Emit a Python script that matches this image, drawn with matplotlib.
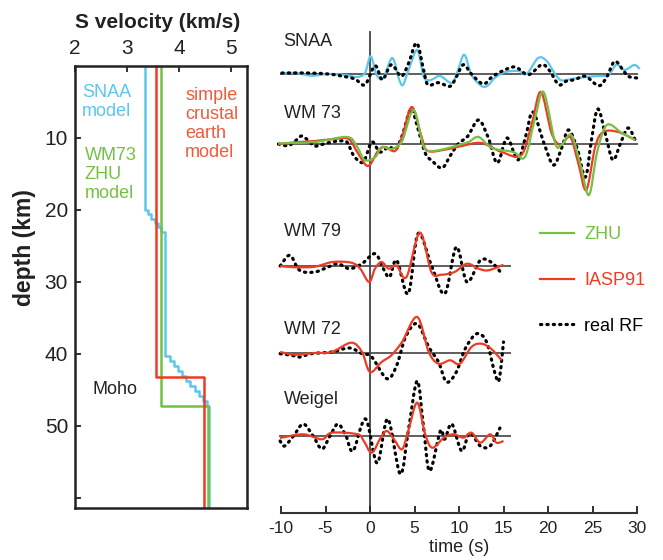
import numpy as np
import matplotlib
matplotlib.use("Agg")
import matplotlib.pyplot as plt
from matplotlib.path import Path
from matplotlib.patches import PathPatch
from matplotlib.lines import Line2D

plt.rcParams['font.family'] = ['Liberation Sans', 'DejaVu Sans']
plt.rcParams['axes.unicode_minus'] = False

BLUE = '#5cc6ee'
RED = '#ee3b24'
GREEN = '#74c045'
DARK = '#333333'

# ---- velocity models: layer top depth (km) and S velocity (km/s) ----
snaa_top = [0, 20.0, 20.6, 21.2, 21.8, 22.4, 23.0, 40.3, 41.0, 41.7, 42.4,
            43.1, 43.8, 44.5, 45.2, 45.9, 46.6, 47.3]
snaa_vs = [3.35, 3.41, 3.47, 3.53, 3.59, 3.65, 3.74, 3.82, 3.90, 3.98, 4.06,
           4.14, 4.22, 4.30, 4.38, 4.46, 4.54, 4.58]
simple_top = [0, 43.2]
simple_vs = [3.56, 4.49]
zhu_top = [0, 47.2]
zhu_vs = [3.65, 4.55]
max_depth = 61.4

# ---- receiver functions: time (s), amplitude ----
snaa_rf_t = [-9.9, -6.9, -4.7, -3.2, -1.7, -0.56, 0.56, 1.4, 2.4, 3.5, 4.3, 5.24,
             6.0, 6.5, 7.7, 9.0, 9.7, 10.5, 11.4, 12.7, 13.7, 14.8, 16.3, 17.8,
             19.3, 20.2, 21.2, 22.1, 23.0, 24.2, 25.7, 26.6, 27.5, 28.5, 29.0, 30.0]
snaa_rf_a = [1, 1, 0, -2, -5, -10.7, 8.3, -5.7, 9.3, -2.3, 10, 31,
             5, -10.7, -8.7, -12.3, -3, 9.3, 0, -10, -3, 2.7, 7, -0.7,
             9.3, 3, -10.7, -7, -5.7, -2.3, -11.7, -3, 12.7, 3, -2.3, -4]
snaa_syn_t = [-9.9, -8.4, -6.55, -4.7, -2.8, -1.5, -0.56, 0.07, 0.75, 1.5, 2.5, 3.25,
              3.7, 4.3, 5.3, 6.0, 6.55, 7.1, 7.9, 9.2, 9.85, 10.6, 11.4, 12.6,
              13.3, 14.0, 15.2, 16.7, 17.6, 18.9, 19.85, 20.8, 21.5, 22.65, 24.2,
              25.7, 26.8, 27.7, 28.6, 29.7, 30.3]
snaa_syn_a = [0.5, 1, -1.7, 0, -1, -3, 1, 17.7, -1, -4, 16, -5,
              -11, 3, 24, -2, -6.3, -5, -2, -9, 3, 19.3, -1, -12.3,
              -11, -4, 2, 3, 0, 16, 13, 0, -6.3, -5, -3,
              -2, -1, 9.3, 4, 9, 5]

wm73_rf_t = [-10.3, -9.2, -8.4, -7.7, -7.0, -6.2, -5.2, -4.3, -3.4, -2.6, -1.8, -0.75,
             0.2, 1.1, 2.1, 2.9, 3.6, 4.6, 5.3, 6.2, 7.0, 8.1, 9.0, 9.9, 11.0, 12.2,
             13.3, 14.3, 15.4, 16.6, 17.5, 18.3, 19.5, 20.6, 21.5, 22.3, 23.3, 24.2,
             24.9, 25.6, 26.5, 27.3, 28.2, 29.0, 29.8]
wm73_rf_a = [0, -1.7, 3, 8, 4, -2, 0, 2, 3, 2, -12, -18,
             2, -8, -3, -5, 8, 35, 18, -9, -17, -24, -12, 0, 8, 24,
             6, -19, 6, -16, 8, 32, 2, -21, -5, 14, -5, -33,
             5, 35, 8, -16, 2, 16, 4]
wm73_iasp_t = [-10.3, -8.4, -6.2, -4.0, -2.4, -1.3, -0.2, 0.9, 1.7, 2.8, 3.6, 4.7,
               5.8, 6.5, 8.8, 10.3, 12.5, 14.8, 17.0, 18.2, 19.2, 20.4, 21.4, 22.5,
               23.4, 24.3, 25.3, 26.2, 27.9, 29.8]
wm73_iasp_a = [0, 1.7, 3, 5, 5, -10, -22, -7, -3, -7, 7, 37,
               7, -7, -5, -2, 1, -8, -11, 21, 52, 11, -1, 7,
               -19, -46, -3, 12, 12, 4]
wm73_zhu_t = [-10.3, -6.2, -2.6, -1.5, -0.6, 0.6, 1.3, 2.4, 3.6, 4.9, 6.0, 6.9,
              8.8, 10.3, 11.1, 12.2, 13.7, 16.1, 17.4, 18.5, 19.5, 20.8, 21.5, 22.6,
              23.6, 24.6, 25.5, 26.6, 28.3, 29.8]
wm73_zhu_a = [0.5, 2, 7, -2, -16, -13, -3, -5, 3, 34, -2, -7,
              -4, 0, 2, 7, -4, -8, -13, 24, 52, 1, -1, 9,
              -19, -51, -9, 19, 11, 4]

wm79_rf_t = [-10.1, -9.0, -7.9, -6.2, -4.7, -3.6, -2.3, -0.9, 0.56, 1.5, 2.2, 3.0,
             4.3, 5.4, 6.9, 8.4, 9.7, 10.9, 12.4, 13.7, 14.8]
wm79_rf_a = [0, 10.7, -4.3, -6, -1, 2.3, -2.7, 2.3, 12.3, -2.7, -11, 5.7,
             -27.7, 32.3, 0.7, -27.7, 19, -16, 5.7, 3.3, -7.7]
wm79_iasp_t = [-10.1, -8.4, -6.2, -4.2, -2.1, -1.1, -0.1, 0.56, 1.3, 2.1, 3.0, 4.1,
               5.6, 6.9, 8.0, 9.5, 10.9, 12.2, 13.3, 15.0]
wm79_iasp_a = [0, -1.3, -0.7, 4, 3.3, -2.7, -16, -2.7, 4, -2.7, 0.3, -11,
               33.3, -6, -8.7, -6, 2.3, -2.7, -4.3, 1.3]

wm72_rf_t = [-10.1, -8.8, -7.9, -6.6, -4.3, -2.3, -0.9, 0.2, 1.9, 3.0, 4.0, 5.3,
             6.6, 7.7, 8.6, 9.7, 10.7, 12.0, 13.1, 14.0, 14.5, 15.0]
wm72_rf_a = [-0.7, -2.3, -4, -0.7, 1, 5, -0.7, -4, -25.7, -12.3, 16, 29.3,
             6, -9, -29, -19, 4.3, 19.3, 11, -19, -27, 11]
wm72_iasp_t = [-10.1, -8.4, -6.2, -4.3, -2.1, -0.9, 0.0, 1.3, 2.4, 3.6, 5.3, 6.6,
               7.7, 9.0, 10.1, 11.4, 12.5, 13.6, 14.8]
wm72_iasp_a = [1, -1.7, 0, 1, 10.3, 1, -19, -9, -2.3, 11, 36, 1,
               -10.7, -7.3, -10.7, 6, 9.3, 4.3, -7.3]

weigel_rf_t = [-10.1, -9.6, -8.6, -7.5, -6.4, -5.4, -4.5, -3.6, -2.7, -1.9, -0.5, 0.8,
               2.0, 3.4, 4.3, 5.3, 6.0, 6.7, 7.9, 8.4, 9.2, 10.3, 11.2, 12.4, 13.5, 14.6]
weigel_rf_a = [-5, -10, 0, 12, 0, -13, 0, 12, 0, -15, 17, -27,
               17, -38, 5, 55, 10, -35, 5, -3, 12, -15, 3, -10, -10, 8]
weigel_iasp_t = [-10.1, -7.5, -5.4, -4.3, -1.4, -0.7, 0.2, 1.2, 1.9, 2.7, 3.6, 4.3,
                 5.3, 6.2, 7.0, 8.3, 9.4, 10.5, 11.4, 12.4, 13.5, 14.2, 15.0]
weigel_iasp_a = [-2, 1.7, -3.3, 3.3, 1.7, -5, -16.7, -1.7, 5, -3.3, -13.3, 5,
                 33.3, 1.7, -11.7, -1.7, 1.7, -1.7, 3.3, -6.7, 1.7, -6.7, -5]

station_names = ['SNAA', 'WM 73', 'WM 79', 'WM 72', 'Weigel']
station_offsets = [439, 369, 247, 160, 77]
baseline_start = [-10.1, -10.4, -10.2, -10.2, -10.2]
baseline_end = [30.1, 30.1, 15.8, 15.8, 15.8]
name_heights = [471, 400, 281, 183, 113]

time_ticks = [-10, -5, 0, 5, 10, 15, 20, 25, 30]


def step_profile(tops, vs, bottom):
    z = []
    v = []
    edges = list(tops[1:]) + [bottom]
    for top, base, vel in zip(tops, edges, vs):
        z += [top, base]
        v += [vel, vel]
    return v, z


def smooth_path(x, y):
    # Catmull-Rom spline through the points, drawn as cubic Bezier segments
    pts = np.column_stack([x, y]).astype(float)
    verts = [pts[0]]
    codes = [Path.MOVETO]
    n = len(pts)
    for i in range(n - 1):
        p0 = pts[max(i - 1, 0)]
        p1 = pts[i]
        p2 = pts[i + 1]
        p3 = pts[min(i + 2, n - 1)]
        verts += [p1 + (p2 - p0) / 6.0, p2 - (p3 - p1) / 6.0, p2]
        codes += [Path.CURVE4] * 3
    return Path(verts, codes)


def draw_trace(ax, t, a, offset, dotted=False, color='k', z=3):
    path = smooth_path(t, np.asarray(a) + offset)
    if dotted:
        patch = PathPatch(path, fill=False, edgecolor='black', lw=2.3,
                          linestyle=(0, (0.4, 1.6)), capstyle='round', zorder=z)
    else:
        patch = PathPatch(path, fill=False, edgecolor=color, lw=1.6, zorder=z)
    ax.add_patch(patch)


fig = plt.figure(figsize=(6.63, 5.6), dpi=100)

# ---------------- velocity-depth panel ----------------
ax1 = fig.add_axes([75 / 663, 1 - 508 / 560, 172 / 663, 442 / 560])
for tops, vs, col in [(snaa_top, snaa_vs, BLUE), (zhu_top, zhu_vs, GREEN),
                      (simple_top, simple_vs, RED)]:
    v, z = step_profile(tops, vs, max_depth)
    ax1.plot(v, z, color=col, lw=1.8)

ax1.set_xlim(2, 5.31)
ax1.set_ylim(max_depth, 0)
ax1.xaxis.tick_top()
ax1.set_xticks([2, 3, 4, 5])
ax1.set_yticks([10, 20, 30, 40, 50, 60])
ax1.set_yticklabels(['10', '20', '30', '40', '50', ''])
ax1.tick_params(axis='both', direction='in', length=4, width=1.3,
                labelsize=15, colors='#222222')
ax1.tick_params(axis='x', pad=6)
ax1.tick_params(axis='y', pad=5)
for sp in ax1.spines.values():
    sp.set_linewidth(1.8)
    sp.set_color('#222222')

ax1.text(2.13, 5.0, 'SNAA\nmodel', color=BLUE, fontsize=13, ha='left', va='center',
         linespacing=1.15)
ax1.text(2.19, 15.1, 'WM73\nZHU\nmodel', color=GREEN, fontsize=13, ha='left',
         va='center', linespacing=1.15)
ax1.text(4.12, 8.1, 'simple\ncrustal\nearth\nmodel', color='#f05a3c', fontsize=13,
         ha='left', va='center', linespacing=1.15)
ax1.text(2.33, 45.0, 'Moho', color='#222222', fontsize=13, ha='left', va='center')

fig.text(158 / 663, 1 - 22 / 560, 'S velocity (km/s)', fontsize=15, fontweight='bold',
         ha='center', va='center', color='#222222')
fig.text(24 / 663, 1 - 248 / 560, 'depth (km)', fontsize=16.5, fontweight='bold',
         rotation=90, ha='center', va='center', color='#222222')

# ---------------- receiver function panel ----------------
ax2 = fig.add_axes([276.55 / 663, 47 / 560, 364.9 / 663, 488 / 560])
ax2.set_xlim(-10.5, 30.5)
ax2.set_ylim(0, 488)

ax2.hlines(station_offsets, baseline_start, baseline_end, color=DARK, lw=1.1, zorder=1)
ax2.axvline(0, ymin=0, ymax=481 / 488, color='#444444', lw=1.3, zorder=1)

off = dict(zip(station_names, station_offsets))
draw_trace(ax2, snaa_syn_t, snaa_syn_a, off['SNAA'], color=BLUE, z=2)
draw_trace(ax2, snaa_rf_t, snaa_rf_a, off['SNAA'], dotted=True, z=3)

draw_trace(ax2, wm73_rf_t, wm73_rf_a, off['WM 73'], dotted=True, z=2)
draw_trace(ax2, wm73_iasp_t, wm73_iasp_a, off['WM 73'], color=RED, z=3)
draw_trace(ax2, wm73_zhu_t, wm73_zhu_a, off['WM 73'], color=GREEN, z=4)

draw_trace(ax2, wm79_rf_t, wm79_rf_a, off['WM 79'], dotted=True, z=2)
draw_trace(ax2, wm79_iasp_t, wm79_iasp_a, off['WM 79'], color=RED, z=3)

draw_trace(ax2, wm72_rf_t, wm72_rf_a, off['WM 72'], dotted=True, z=2)
draw_trace(ax2, wm72_iasp_t, wm72_iasp_a, off['WM 72'], color=RED, z=3)

draw_trace(ax2, weigel_rf_t, weigel_rf_a, off['Weigel'], dotted=True, z=2)
draw_trace(ax2, weigel_iasp_t, weigel_iasp_a, off['Weigel'], color=RED, z=3)

for name, h in zip(station_names, name_heights):
    ax2.text(-9.7, h, name, fontsize=13, ha='left', va='center', color='#222222')

for side in ['top', 'right', 'left']:
    ax2.spines[side].set_visible(False)
ax2.spines['bottom'].set_bounds(-10, 30)
ax2.spines['bottom'].set_linewidth(1.5)
ax2.spines['bottom'].set_color(DARK)
ax2.set_yticks([])
ax2.set_xticks(time_ticks)
ax2.tick_params(axis='x', direction='in', length=5, width=1.3, labelsize=12.5,
                pad=6, colors='#222222')
ax2.set_xlabel('time (s)', fontsize=13, labelpad=2, color='#222222')

handles = [Line2D([], [], color=GREEN, lw=1.6),
           Line2D([], [], color=RED, lw=1.6),
           Line2D([], [], color='black', lw=2.3, linestyle=(0, (0.4, 1.6)),
                  dash_capstyle='round')]
ax2.legend(handles, ['ZHU', 'IASP91', 'real RF'], loc='upper left',
           bbox_to_anchor=(540 / 663, 1 - 226 / 560), bbox_transform=fig.transFigure,
           frameon=False, fontsize=13, handlelength=1.9, handletextpad=0.55,
           labelspacing=1.6, borderpad=0, borderaxespad=0,
           labelcolor=[GREEN, RED, 'black'])

fig.savefig('out.png', dpi=100)
